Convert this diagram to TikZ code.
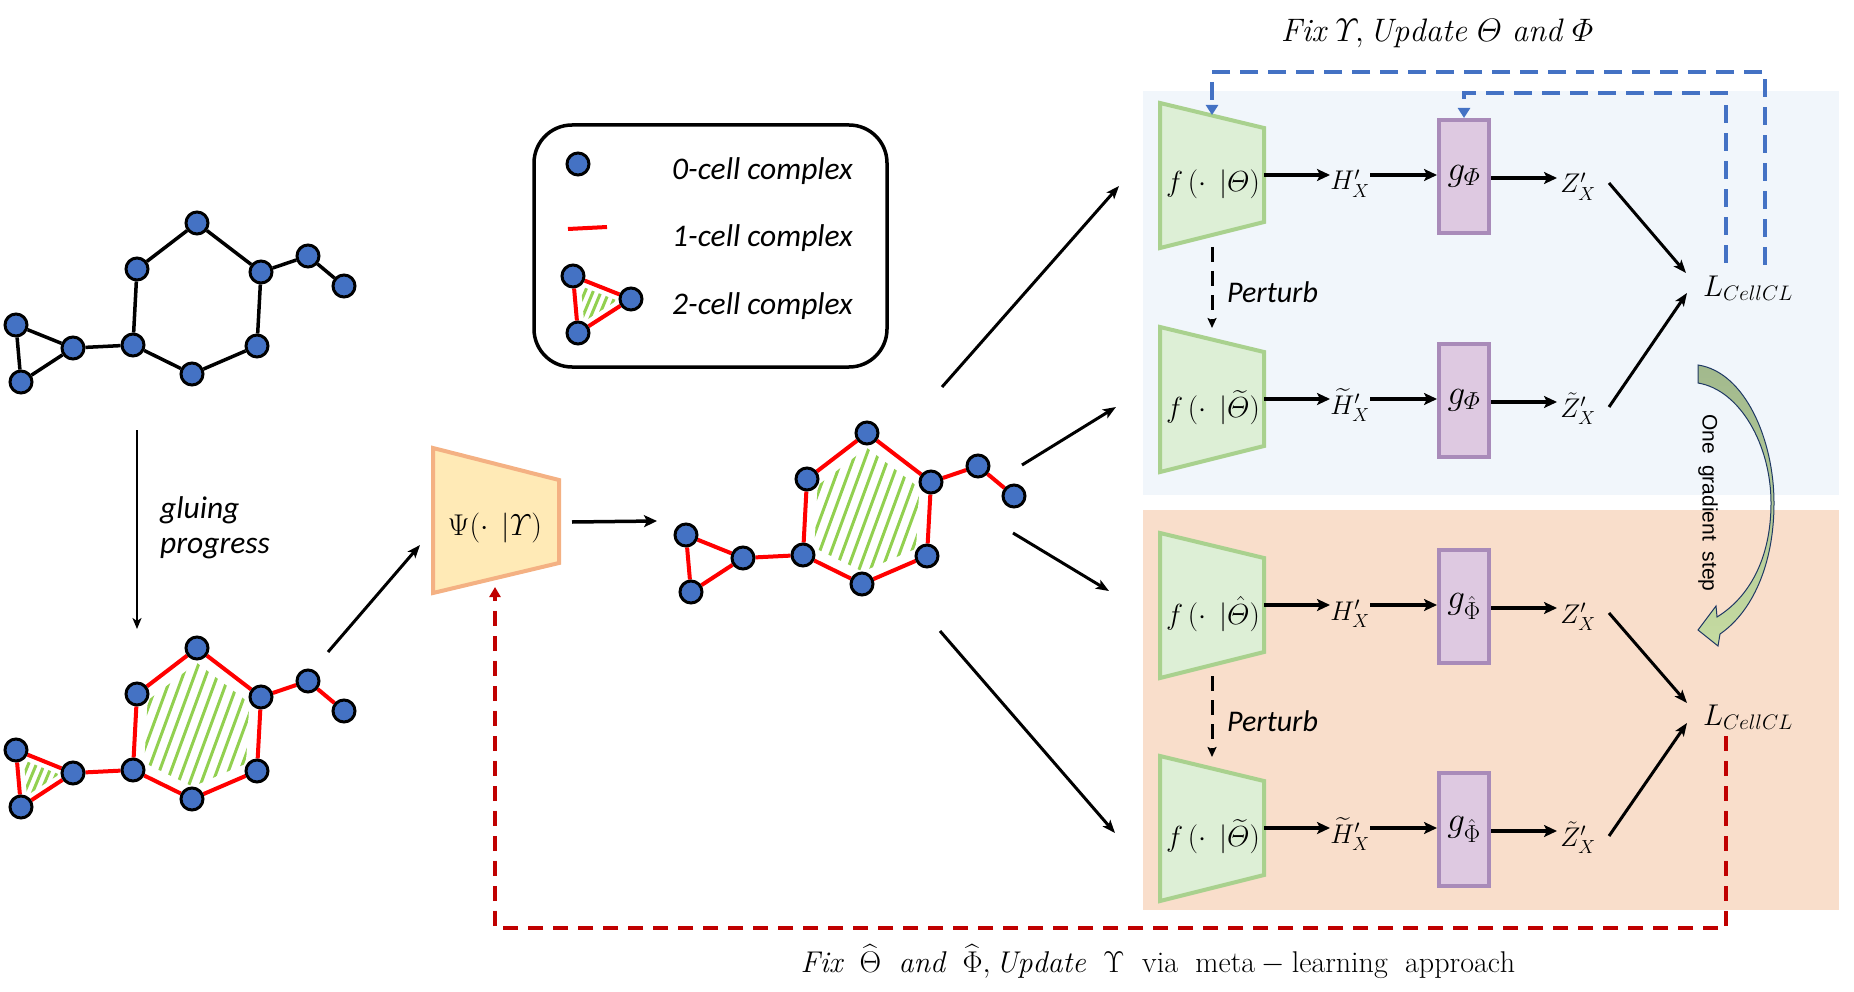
\RequirePackage{fix-cm}
\documentclass[tikz,border=0pt]{standalone}
\usepackage{amsmath}
\usepackage{fontspec}
\newfontfamily\calfont{Carlito}
\newfontfamily\arialfont{Liberation Sans}
\usetikzlibrary{arrows.meta,calc}
\pgfdeclarelayer{back}
\pgfdeclarelayer{mid}
\pgfsetlayers{back,mid,main}
\definecolor{nodeblue}{HTML}{4472C4}
\definecolor{edgered}{HTML}{FF0000}
\definecolor{hatchgreen}{HTML}{92D050}
\definecolor{panelblue}{HTML}{F1F6FB}
\definecolor{panelorange}{HTML}{F9DECB}
\definecolor{encfill}{HTML}{DDEFD6}
\definecolor{encdraw}{HTML}{A9D18E}
\definecolor{projfill}{HTML}{DEC9E1}
\definecolor{projdraw}{HTML}{A98BB9}
\definecolor{psifill}{HTML}{FFEAB6}
\definecolor{psidraw}{HTML}{F4B183}
\definecolor{dashblue}{HTML}{4472C4}
\definecolor{dashred}{HTML}{C00000}
\definecolor{arrowtop}{HTML}{A2B98D}
\definecolor{arrowbot}{HTML}{C5DBA1}
\definecolor{arrowline}{HTML}{1F3864}
\tikzset{
 vtx/.style={circle, draw=black, fill=nodeblue, line width=3pt, minimum size=22pt, inner sep=0pt},
 blackedge/.style={line width=3.5pt, draw=black},
 rededge/.style={line width=4pt, draw=edgered},
 hatchline/.style={line width=3pt, draw=hatchgreen},
 encoder/.style={fill=encfill, draw=encdraw, line width=4pt},
 gbox/.style={rectangle, fill=projfill, draw=projdraw, line width=4pt, minimum width=50pt, minimum height=113pt, inner sep=0pt, font=\fontsize{35}{40}\selectfont},
 psibox/.style={fill=psifill, draw=psidraw, line width=4pt},
 mathlbl/.style={inner sep=0pt, font=\fontsize{27}{32}\selectfont},
 flbl/.style={inner sep=0pt, font=\fontsize{29}{34}\selectfont},
 caltxt/.style={inner sep=0pt, font=\calfont\itshape\fontsize{31.5}{36}\selectfont},
 legendbox/.style={draw=black, line width=3.5pt, rounded corners=38pt},
 arr/.style={line width=3.5pt, -{Stealth[length=13pt,width=12pt,inset=3pt]}},
 diag/.style={line width=3pt, -{Stealth[length=13pt,width=10pt,inset=3pt]}},
 thinarr/.style={line width=2.5pt, -{Stealth[length=11pt,width=9pt,inset=3pt]}},
 perturbarr/.style={line width=3pt, dash pattern=on 15pt off 9pt, -{Stealth[length=10pt,width=9pt,inset=2pt]}},
 bluedash/.style={line width=4pt, draw=dashblue, dash pattern=on 18pt off 10pt, -{Triangle[length=10pt,width=12pt]}},
 reddash/.style={line width=4pt, draw=dashred, dash pattern=on 15pt off 10pt, -{Triangle[length=10pt,width=11pt]}},
}
% #1 prefix, #2 shift, #3 edge style, #4 hatch hexagon, #5 hatch triangle
\newcommand\drawmol[5]{%
 \begin{scope}[shift={#2}]
  \node[vtx] (#1A) at (197,648) {};
  \node[vtx] (#1B) at (137,694) {};
  \node[vtx] (#1C) at (261,697) {};
  \node[vtx] (#1D) at (133,770) {};
  \node[vtx] (#1E) at (192,799) {};
  \node[vtx] (#1F) at (257,771) {};
  \node[vtx] (#1T) at (308,681) {};
  \node[vtx] (#1U) at (344,711) {};
  \node[vtx] (#1P) at (16,750) {};
  \node[vtx] (#1Q) at (73,773) {};
  \node[vtx] (#1R) at (21,807) {};
  \coordinate (#1hc) at (196,730);
  \coordinate (#1tc) at (36.7,776.7);
 \end{scope}
 \begin{pgfonlayer}{mid}
  \draw[#3] (#1A) -- (#1B) -- (#1D) -- (#1E) -- (#1F) -- (#1C) -- (#1A);
  \draw[#3] (#1C) -- (#1T) -- (#1U);
  \draw[#3] (#1D) -- (#1Q) -- (#1P) -- (#1R) -- (#1Q);
  \ifnum#4=1
  \begin{scope}
   \clip ($(#1hc)!0.82!(#1A.center)$) -- ($(#1hc)!0.82!(#1C.center)$) -- ($(#1hc)!0.82!(#1F.center)$)
     -- ($(#1hc)!0.82!(#1E.center)$) -- ($(#1hc)!0.82!(#1D.center)$) -- ($(#1hc)!0.82!(#1B.center)$) -- cycle;
   \foreach \k in {0,...,17} \draw[hatchline] ($(#1hc)+(-118+\k*11.5,75)$) -- ++(55,-150);
  \end{scope}
  \fi
  \ifnum#5=1
  \begin{scope}
   \clip ($(#1tc)!0.62!(#1P.center)$) -- ($(#1tc)!0.62!(#1Q.center)$) -- ($(#1tc)!0.62!(#1R.center)$) -- cycle;
   \foreach \k in {0,...,7} \draw[hatchline] ($(#1tc)+(-34+\k*8,30)$) -- ++(25,-60);
  \end{scope}
  \fi
 \end{pgfonlayer}
}
% #1 prefix, #2 top y, #3 f label, #4 H label, #5 g label, #6 Z label
\newcommand\drawbranch[6]{%
 \draw[encoder] (1160,#2) coordinate (#1-tl) -- (1264,#2+25) coordinate (#1-tr)
   -- (1264,#2+119) coordinate (#1-br) -- (1160,#2+145) coordinate (#1-bl) -- cycle;
 \coordinate (#1-tip) at (1212,#2+12);
 \node[flbl] (#1-f) at (1213,#2+81) {#3};
 \node[mathlbl, anchor=base] (#1-H) at (1350,#2+87) {#4};
 \node[gbox] (#1-g) at (1464,#2+73.5) {#5};
 \node[mathlbl, anchor=base] (#1-Z) at (1578,#2+90) {#6};
 \coordinate (#1-p1) at (1264,#2+72);
 \coordinate (#1-p2) at (1330,#2+72);
 \coordinate (#1-p3) at (1370,#2+72);
 \coordinate (#1-p5) at (1491,#2+75);
 \coordinate (#1-p6) at (1557,#2+75);
 \coordinate (#1-zo) at (1609,#2+80);
 \draw[arr] (#1-p1) -- (#1-p2);
 \draw[arr] (#1-p3) -- (#1-g.west |- #1-p3);
 \draw[arr] (#1-p5) -- (#1-p6);
}
\begin{document}
\begin{tikzpicture}[x=1pt,y=-1pt]
\useasboundingbox (0,0) rectangle (1854,992);
\begin{pgfonlayer}{back}
 \fill[panelblue] (1143,91) rectangle (1839,495);
 \fill[panelorange] (1143,510) rectangle (1839,910);
\end{pgfonlayer}

% title
\node[mathlbl, font=\fontsize{32.5}{38}\selectfont, anchor=base] (title) at (1437,42)
 {$\mathit{Fix}\ \varUpsilon,\mathit{Update}\ \varTheta\ \mathit{and}\ \varPhi$};

% legend
\draw[legendbox] (534,125) rectangle (887,367);
\node[vtx] (lg0) at (578,164) {};
\node[caltxt, anchor=west] (lt0) at (672,171) {0-cell complex};
\coordinate (lr1) at (568,229);
\coordinate (lr2) at (607,227);
\begin{pgfonlayer}{mid}
 \draw[rededge] (lr1) -- (lr2);
\end{pgfonlayer}
\node[caltxt, anchor=west] (lt1) at (672,238) {1-cell complex};
\node[vtx] (lgA) at (573,276) {};
\node[vtx] (lgB) at (631,299) {};
\node[vtx] (lgC) at (578,333) {};
\coordinate (lgc) at (594,302.7);
\begin{pgfonlayer}{mid}
 \draw[rededge] (lgA) -- (lgB) -- (lgC) -- (lgA);
 \begin{scope}
  \clip ($(lgc)!0.62!(lgA.center)$) -- ($(lgc)!0.62!(lgB.center)$) -- ($(lgc)!0.62!(lgC.center)$) -- cycle;
  \foreach \k in {0,...,7} \draw[hatchline] ($(lgc)+(-34+\k*8,30)$) -- ++(25,-60);
 \end{scope}
\end{pgfonlayer}
\node[caltxt, anchor=west] (lt2) at (672,306) {2-cell complex};

% molecules
\drawmol{t}{(0,-425)}{blackedge}{0}{0}
\drawmol{b}{(0,0)}{rededge}{1}{1}
\drawmol{m}{(670,-215)}{rededge}{1}{0}

% gluing arrow
\coordinate (g0) at (137,430);
\coordinate (g1) at (137,629);
\draw[thinarr] (g0) -- (g1);
\node[caltxt, anchor=west, align=left] (glue) at (160,528) {gluing\\[-1pt]progress};

% Psi
\draw[psibox] (433,448) coordinate (psiTL) -- (559,480) coordinate (psiTR)
  -- (559,563) coordinate (psiBR) -- (433,593) coordinate (psiBL) -- cycle;
\node[flbl, font=\fontsize{30}{36}\selectfont] (psi) at (495,528) {$\Psi(\cdot\;\,|\varUpsilon)$};
\coordinate (psiTip) at (495,587);
\coordinate (bOut) at (328,652);
\coordinate (psiIn) at (420,545);
\draw[diag] (bOut) -- (psiIn);
\coordinate (psiOut) at (572,522);
\coordinate (mIn) at (657,521);
\draw[arr] (psiOut) -- (mIn);

% diagonal arrows
\coordinate (d1s) at (942,387); \coordinate (d1e) at (1119,186);
\coordinate (d2s) at (1022,465); \coordinate (d2e) at (1116,407);
\coordinate (d3s) at (1013,533); \coordinate (d3e) at (1109,591);
\coordinate (d4s) at (940,631); \coordinate (d4e) at (1115,833);
\draw[diag] (d1s) -- (d1e);
\draw[diag] (d2s) -- (d2e);
\draw[diag] (d3s) -- (d3e);
\draw[diag] (d4s) -- (d4e);

% branches
\drawbranch{b1}{103}{$f\,(\cdot\;\,|\varTheta)$}{$H'_X$}{$g_{\varPhi}$}{$Z'_X$}
\drawbranch{b2}{327}{$f\,(\cdot\;\,|\widetilde{\varTheta})$}{$\widetilde{H}'_X$}{$g_{\varPhi}$}{$\tilde{Z}'_X$}
\drawbranch{b3}{533}{$f\,(\cdot\;\,|\hat{\varTheta})$}{$H'_X$}{$g_{\hat{\Phi}}$}{$Z'_X$}
\drawbranch{b4}{756}{$f\,(\cdot\;\,|\widetilde{\varTheta})$}{$\widetilde{H}'_X$}{$g_{\hat{\Phi}}$}{$\tilde{Z}'_X$}

% perturb
\coordinate (pt1s) at (1212,247); \coordinate (pt1e) at (1212,328);
\coordinate (pt2s) at (1212,676); \coordinate (pt2e) at (1212,757);
\draw[perturbarr] (pt1s) -- (pt1e);
\draw[perturbarr] (pt2s) -- (pt2e);
\node[caltxt, font=\calfont\itshape\fontsize{30}{36}\selectfont, anchor=base west] (pt1) at (1227,302) {Perturb};
\node[caltxt, font=\calfont\itshape\fontsize{30}{36}\selectfont, anchor=base west] (pt2) at (1227,731) {Perturb};

% losses
\node[mathlbl, font=\fontsize{30}{36}\selectfont, anchor=base west] (L1) at (1703,296) {$L_{CellCL}$};
\node[mathlbl, font=\fontsize{30}{36}\selectfont, anchor=base west] (L2) at (1703,725) {$L_{CellCL}$};
\coordinate (L1a) at (1686,273); \coordinate (L1b) at (1687,293);
\coordinate (L2a) at (1687,703); \coordinate (L2b) at (1687,723);
\draw[diag] (b1-zo) -- (L1a);
\draw[diag] (b2-zo) -- (L1b);
\draw[diag] (b3-zo) -- (L2a);
\draw[diag] (b4-zo) -- (L2b);

% feedback dashed lines
\coordinate (L1lo) at (1765,265);
\coordinate (L1li) at (1726,263);
\draw[bluedash] (L1lo) -- ++(0,-193) -| (b1-tip);
\draw[bluedash] (L1li) -- ++(0,-170) -| (b1-g.north);
\coordinate (L2bot) at (1726,736);
\draw[reddash] (L2bot) -- ++(0,192) -| (psiTip);

% bottom text
\node[mathlbl, font=\fontsize{30}{36}\selectfont, anchor=base] (bottomtxt) at (1158,972)
 {$\mathit{Fix}\;\ \widehat{\Theta}\;\ \mathit{and}\;\ \widehat{\Phi},\mathit{Update}\;\ \Upsilon\;\ \mathrm{via\;\ meta}-\mathrm{learning\;\ approach}$};

% one gradient step arrow
\shade[top color=arrowtop, bottom color=arrowbot, draw=arrowline, line width=1pt]
 (1698,365) .. controls (1745,372) and (1774,440) .. (1774,503)
 .. controls (1774,565) and (1752,612) .. (1720,634)
 -- (1718,646) -- (1698,630) -- (1716,606) -- (1717,617)
 .. controls (1748,598) and (1771,560) .. (1771,503)
 .. controls (1771,445) and (1740,390) .. (1698,383) -- cycle;
\node[inner sep=0pt, rotate=-90, font=\arialfont\fontsize{21}{25}\selectfont] (gstep) at (1708,503)
 {One\hspace{11pt}gradient\hspace{11pt}step};
\end{tikzpicture}
\end{document}
